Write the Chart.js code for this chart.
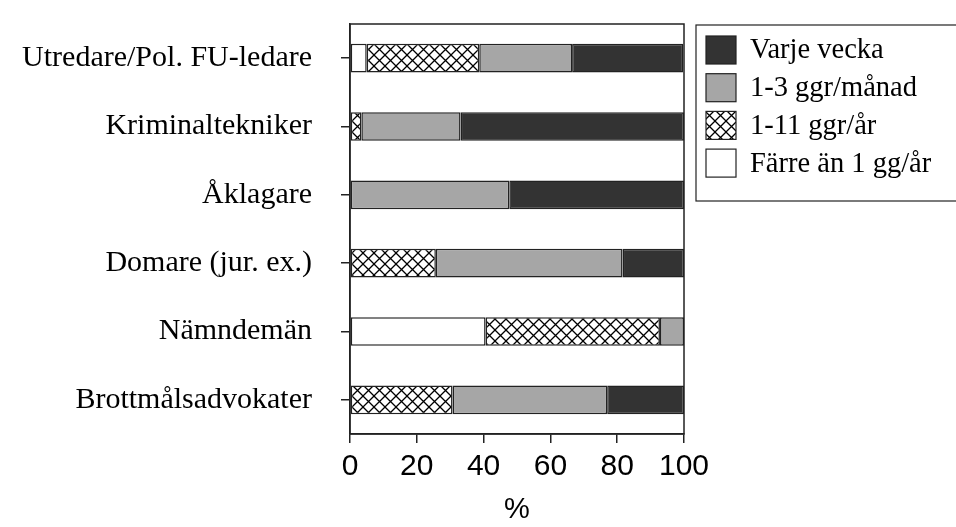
<!DOCTYPE html>
<html>
<head>
<meta charset="utf-8">
<script src="https://cdn.jsdelivr.net/npm/chart.js@4/dist/chart.umd.min.js"></script>
<style>
    body { margin: 0; background: #fff; }
    #wrap { width: 956px; height: 527px; }
</style>
</head>
<body>
<div id="wrap"><canvas id="freqChart" width="956" height="527"></canvas></div>
<script>
const categories = ['Utredare/Pol. FU-ledare', 'Kriminaltekniker', 'Åklagare', 'Domare (jur. ex.)', 'Nämndemän', 'Brottmålsadvokater'];
const farreAn1 = [5, 0, 0, 0, 40.6, 0];
const ggrPerAr = [33.7, 3.4, 0, 25.7, 52.2, 30.7];
const ggrPerManad = [27.8, 29.7, 47.7, 55.9, 7.2, 46.3];
const varjeVecka = [33.3, 66.9, 52.3, 18.4, 0, 23];
const xTicks = [0, 20, 40, 60, 80, 100];

// cross-hatch fill for "1-11 ggr/år"
function makeHatch() {
    const c = document.createElement('canvas');
    c.width = 11; c.height = 11;
    const g = c.getContext('2d');
    g.fillStyle = '#fff';
    g.fillRect(0, 0, 11, 11);
    g.strokeStyle = '#000';
    g.lineWidth = 1.3;
    g.beginPath();
    g.moveTo(0, 0); g.lineTo(11, 11);
    g.moveTo(11, 0); g.lineTo(0, 11);
    g.stroke();
    return g.createPattern(c, 'repeat');
}
const hatch = makeHatch();

const edge = '#222';

// frame round the plot + legend box on the right
const framePlugin = {
    id: 'frame',
    afterDraw(chart) {
        const { ctx, chartArea: a } = chart;
        ctx.save();
        ctx.strokeStyle = edge;
        ctx.lineWidth = 1.5;
        ctx.strokeRect(a.left, a.top, a.right - a.left, a.bottom - a.top);

        // legend
        ctx.lineWidth = 1.2;
        ctx.strokeRect(696, 25, 290, 176);
        const items = chart.data.datasets.slice().reverse();
        ctx.font = '28.5px "Liberation Serif", "Times New Roman", serif';
        ctx.textBaseline = 'middle';
        items.forEach((ds, i) => {
            const y = 36 + i * 37.7;
            ctx.fillStyle = ds.backgroundColor;
            ctx.fillRect(706, y, 30, 28);
            ctx.strokeStyle = edge;
            ctx.lineWidth = 1.2;
            ctx.strokeRect(706, y, 30, 28);
            ctx.fillStyle = '#000';
            ctx.fillText(ds.label, 750, y + 15);
        });
        ctx.restore();
    }
};

const seg = (label, data, color) => ({
    label: label,
    data: data,
    backgroundColor: color,
    borderColor: edge,
    borderWidth: 1.5,
    borderSkipped: false,
    categoryPercentage: 1,
    barPercentage: 0.42
});

new Chart(document.getElementById('freqChart'), {
    type: 'bar',
    data: {
        labels: categories,
        datasets: [
            seg('Färre än 1 gg/år', farreAn1, '#ffffff'),
            seg('1-11 ggr/år', ggrPerAr, hatch),
            seg('1-3 ggr/månad', ggrPerManad, '#a6a6a6'),
            seg('Varje vecka', varjeVecka, '#333333')
        ]
    },
    options: {
        indexAxis: 'y',
        responsive: false,
        animation: false,
        layout: { padding: { top: 24, right: 272, left: 0, bottom: 0 } },
        plugins: {
            legend: { display: false },
            tooltip: { enabled: false }
        },
        scales: {
            x: {
                stacked: true,
                min: 0,
                max: 100,
                afterBuildTicks: (scale) => { scale.ticks = xTicks.map(v => ({ value: v })); },
                afterFit: (scale) => {
                    scale.height = 93;
                    scale.paddingLeft = 0;
                    scale.paddingRight = 0;
                },
                grid: { drawOnChartArea: false, tickLength: 9, color: edge, lineWidth: 1.5 },
                border: { display: true, color: edge, width: 1.5 },
                ticks: {
                    padding: 6,
                    color: '#000',
                    font: { family: '"Liberation Sans", Arial, sans-serif', size: 30 }
                },
                title: {
                    display: true,
                    text: '%',
                    color: '#000',
                    padding: { top: 2, bottom: 0 },
                    font: { family: '"Liberation Sans", Arial, sans-serif', size: 29 }
                }
            },
            y: {
                stacked: true,
                afterFit: (scale) => {
                    scale.width = 350;
                    scale.paddingTop = 0;
                    scale.paddingBottom = 0;
                },
                grid: { drawOnChartArea: false, offset: false, tickLength: 9, color: edge, lineWidth: 1.5 },
                border: { display: true, color: edge, width: 1.5 },
                ticks: {
                    padding: 29,
                    color: '#000',
                    font: { family: '"Liberation Serif", "Times New Roman", serif', size: 30 }
                }
            }
        }
    },
    plugins: [framePlugin]
});
</script>
</body>
</html>
